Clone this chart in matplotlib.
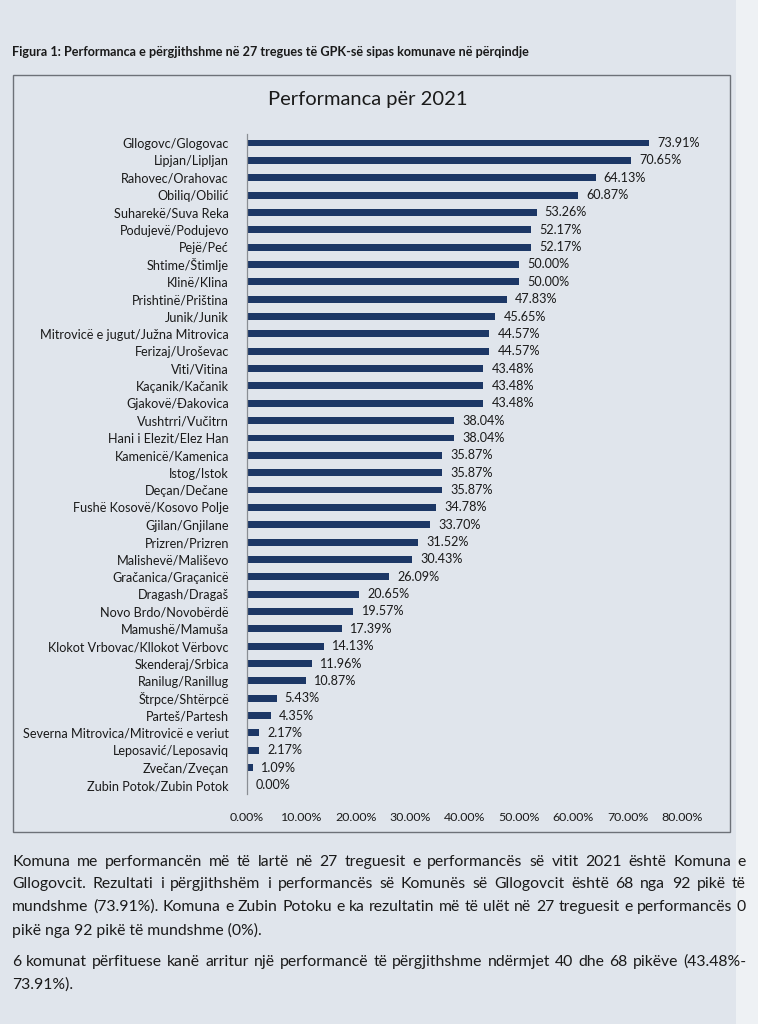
import matplotlib
matplotlib.use('Agg')
import matplotlib.pyplot as plt
from matplotlib.patches import Rectangle

# data
municipalities = [
    'Gllogovc/Glogovac', 'Lipjan/Lipljan', 'Rahovec/Orahovac', 'Obiliq/Obilić',
    'Suharekë/Suva Reka', 'Podujevë/Podujevo', 'Pejë/Peć', 'Shtime/Štimlje',
    'Klinë/Klina', 'Prishtinë/Priština', 'Junik/Junik',
    'Mitrovicë e jugut/Južna Mitrovica', 'Ferizaj/Uroševac', 'Viti/Vitina',
    'Kaçanik/Kačanik', 'Gjakovë/Đakovica', 'Vushtrri/Vučitrn',
    'Hani i Elezit/Elez Han', 'Kamenicë/Kamenica', 'Istog/Istok',
    'Deçan/Dečane', 'Fushë Kosovë/Kosovo Polje', 'Gjilan/Gnjilane',
    'Prizren/Prizren', 'Malishevë/Mališevo', 'Gračanica/Graçanicë',
    'Dragash/Dragaš', 'Novo Brdo/Novobërdë', 'Mamushë/Mamuša',
    'Klokot Vrbovac/Kllokot Vërbovc', 'Skenderaj/Srbica', 'Ranilug/Ranillug',
    'Štrpce/Shtërpcë', 'Parteš/Partesh', 'Severna Mitrovica/Mitrovicë e veriut',
    'Leposavić/Leposaviq', 'Zvečan/Zveçan', 'Zubin Potok/Zubin Potok',
]
performance = [
    73.91, 70.65, 64.13, 60.87, 53.26, 52.17, 52.17, 50.00, 50.00, 47.83,
    45.65, 44.57, 44.57, 43.48, 43.48, 43.48, 38.04, 38.04, 35.87, 35.87,
    35.87, 34.78, 33.70, 31.52, 30.43, 26.09, 20.65, 19.57, 17.39, 14.13,
    11.96, 10.87, 5.43, 4.35, 2.17, 2.17, 1.09, 0.00,
]
x_ticks = [0, 10, 20, 30, 40, 50, 60, 70, 80]

fig_title = 'Figura 1: Performanca e përgjithshme në 27 tregues të GPK-së sipas komunave në përqindje'
chart_title = 'Performanca për 2021'
paragraph = [
    ('Komuna me performancën më të lartë në 27 treguesit e performancës së vitit 2021 është Komuna e', True),
    ('Gllogovcit. Rezultati i përgjithshëm i performancës së Komunës së Gllogovcit është 68 nga 92 pikë të', True),
    ('mundshme (73.91%). Komuna e Zubin Potoku e ka rezultatin më të ulët në 27 treguesit e performancës 0', True),
    ('pikë nga 92 pikë të mundshme (0%).', False),
    ('6 komunat përfituese kanë arritur një performancë të përgjithshme ndërmjet 40 dhe 68 pikëve (43.48%-', True),
    ('73.91%).', False),
]

PAGE = '#e0e5ec'
BAR = '#1c3766'
TXT = '#1a1a1a'
W, H = 758, 1024

plt.rcParams['font.family'] = ['Lato', 'DejaVu Sans']
fig = plt.figure(figsize=(W / 100, H / 100), dpi=100, facecolor=PAGE)


def fx(px):
    return px / W


def fy(py):
    return 1 - py / H


# page edge on the right is lighter
fig.patches.append(Rectangle((fx(736), 0), 1 - fx(736), 1, transform=fig.transFigure,
                             facecolor='#eef1f4', edgecolor='none', zorder=0))
# chart frame
fig.patches.append(Rectangle((fx(13), fy(832)), fx(730) - fx(13), fy(75) - fy(832),
                             transform=fig.transFigure, facecolor='none',
                             edgecolor='#6d7178', lw=1.0, zorder=1))

fig.text(fx(12), fy(52), fig_title, fontsize=9.1, fontweight='bold', color=TXT, va='center')
fig.text(fx(368), fy(100), chart_title, fontsize=14.5, color=TXT, ha='center', va='center')

ax = fig.add_axes([fx(247), fy(793.7), fx(682) - fx(247), fy(134.3) - fy(793.7)])
ax.set_facecolor('none')
pos = list(range(len(municipalities)))
ax.barh(pos, performance, height=0.4, color=BAR)
for p, v in zip(pos, performance):
    ax.text(v + 1.5, p, f'{v:.2f}%', va='center', ha='left', fontsize=9.1, color=TXT)
ax.set_ylim(len(municipalities) - 0.5, -0.5)
ax.set_xlim(0, 80)
ax.set_yticks(pos)
ax.set_yticklabels(municipalities, fontsize=9.1, color=TXT)
ax.set_xticks(x_ticks)
ax.set_xticklabels([f'{t:.2f}%' for t in x_ticks], fontsize=8.9, color=TXT)
ax.tick_params(length=0, pad=13, axis='x')
ax.tick_params(length=0, pad=13, axis='y')
for side in ['top', 'right', 'bottom']:
    ax.spines[side].set_visible(False)
ax.spines['left'].set_color('#8a8e94')
ax.spines['left'].set_linewidth(0.9)

# paragraph below the chart, justified like the page
renderer = fig.canvas.get_renderer()
line_y = [862, 884, 907, 930, 962, 985]
x_left, x_right = 12, 746
for (line, justify), y in zip(paragraph, line_y):
    if not justify:
        fig.text(fx(x_left), fy(y), line, fontsize=11.3, color=TXT, va='center')
        continue
    words = line.split(' ')
    texts = [fig.text(0, fy(y), w_, fontsize=11.3, color=TXT, va='center') for w_ in words]
    widths = [t.get_window_extent(renderer).width for t in texts]
    gap = (x_right - x_left - sum(widths)) / (len(words) - 1)
    x = x_left
    for t, wd in zip(texts, widths):
        t.set_x(fx(x))
        x += wd + gap

fig.savefig('out.png', dpi=100, facecolor=PAGE)
